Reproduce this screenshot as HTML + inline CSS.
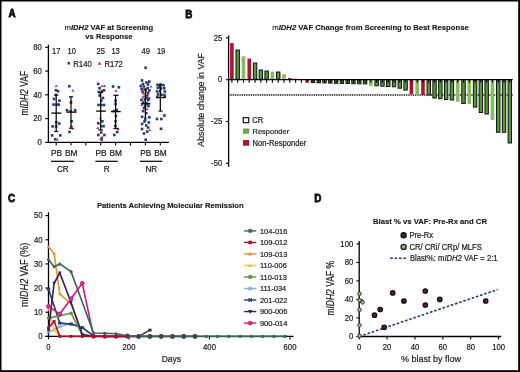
<!DOCTYPE html>
<html><head><meta charset="utf-8"><style>
html,body{margin:0;padding:0;background:#fff;}
svg{display:block;font-family:"Liberation Sans", sans-serif;will-change:transform;filter:blur(0.3px);}
text{fill:#1a1a1a;}
</style></head><body>
<svg width="520" height="372" viewBox="0 0 520 372">
<rect x="0" y="0" width="520" height="372" fill="#fff"/>
<rect x="0" y="0" width="520" height="1.5" fill="#000"/>
<rect x="0" y="0" width="1.5" height="372" fill="#000"/>
<rect x="518.2" y="0" width="1.8" height="372" fill="#000"/>
<rect x="0" y="370.2" width="520" height="1.8" fill="#000"/>
<text transform="translate(8.40,17.40) scale(0.84,1)" font-size="11.8" font-weight="bold" stroke="#000" stroke-width="0.75">A</text>
<text transform="translate(185.20,17.50) scale(0.84,1)" font-size="11.8" font-weight="bold" stroke="#000" stroke-width="0.75">B</text>
<text transform="translate(8.10,201.80) scale(0.84,1)" font-size="11.8" font-weight="bold" stroke="#000" stroke-width="0.75">C</text>
<text transform="translate(314.20,201.50) scale(0.84,1)" font-size="11.8" font-weight="bold" stroke="#000" stroke-width="0.75">D</text>
<line x1="48.40" y1="44.80" x2="48.40" y2="143.00" stroke="#000" stroke-width="1.3" />
<line x1="45.20" y1="142.40" x2="48.40" y2="142.40" stroke="#000" stroke-width="1.1" />
<text transform="translate(41.70,145.15) scale(0.9259,1)" font-size="8.32" text-anchor="end" font-weight="normal" stroke="#1a1a1a" stroke-width="0.2" >0</text>
<line x1="45.20" y1="118.62" x2="48.40" y2="118.62" stroke="#000" stroke-width="1.1" />
<text transform="translate(41.70,121.38) scale(0.9259,1)" font-size="8.32" text-anchor="end" font-weight="normal" stroke="#1a1a1a" stroke-width="0.2" >20</text>
<line x1="45.20" y1="94.85" x2="48.40" y2="94.85" stroke="#000" stroke-width="1.1" />
<text transform="translate(41.70,97.60) scale(0.9259,1)" font-size="8.32" text-anchor="end" font-weight="normal" stroke="#1a1a1a" stroke-width="0.2" >40</text>
<line x1="45.20" y1="71.07" x2="48.40" y2="71.07" stroke="#000" stroke-width="1.1" />
<text transform="translate(41.70,73.82) scale(0.9259,1)" font-size="8.32" text-anchor="end" font-weight="normal" stroke="#1a1a1a" stroke-width="0.2" >60</text>
<line x1="45.20" y1="47.30" x2="48.40" y2="47.30" stroke="#000" stroke-width="1.1" />
<text transform="translate(41.70,50.05) scale(0.9259,1)" font-size="8.32" text-anchor="end" font-weight="normal" stroke="#1a1a1a" stroke-width="0.2" >80</text>
<line x1="47.80" y1="142.40" x2="168.90" y2="142.40" stroke="#000" stroke-width="1.3" />
<line x1="56.20" y1="142.40" x2="56.20" y2="145.60" stroke="#000" stroke-width="1.1" />
<line x1="71.00" y1="142.40" x2="71.00" y2="145.60" stroke="#000" stroke-width="1.1" />
<line x1="85.80" y1="142.40" x2="85.80" y2="145.60" stroke="#000" stroke-width="1.1" />
<line x1="100.70" y1="142.40" x2="100.70" y2="145.60" stroke="#000" stroke-width="1.1" />
<line x1="115.60" y1="142.40" x2="115.60" y2="145.60" stroke="#000" stroke-width="1.1" />
<line x1="130.50" y1="142.40" x2="130.50" y2="145.60" stroke="#000" stroke-width="1.1" />
<line x1="145.40" y1="142.40" x2="145.40" y2="145.60" stroke="#000" stroke-width="1.1" />
<line x1="160.30" y1="142.40" x2="160.30" y2="145.60" stroke="#000" stroke-width="1.1" />
<text transform="translate(56.50,156.40) scale(1.0185,1)" font-size="8.21" text-anchor="middle" font-weight="normal" stroke="#1a1a1a" stroke-width="0.2" >PB</text>
<text transform="translate(71.20,156.40) scale(1.0185,1)" font-size="8.21" text-anchor="middle" font-weight="normal" stroke="#1a1a1a" stroke-width="0.2" >BM</text>
<text transform="translate(101.00,156.40) scale(1.0185,1)" font-size="8.21" text-anchor="middle" font-weight="normal" stroke="#1a1a1a" stroke-width="0.2" >PB</text>
<text transform="translate(115.80,156.40) scale(1.0185,1)" font-size="8.21" text-anchor="middle" font-weight="normal" stroke="#1a1a1a" stroke-width="0.2" >BM</text>
<text transform="translate(145.70,156.40) scale(1.0185,1)" font-size="8.21" text-anchor="middle" font-weight="normal" stroke="#1a1a1a" stroke-width="0.2" >PB</text>
<text transform="translate(160.50,156.40) scale(1.0185,1)" font-size="8.21" text-anchor="middle" font-weight="normal" stroke="#1a1a1a" stroke-width="0.2" >BM</text>
<line x1="51.00" y1="161.30" x2="74.20" y2="161.30" stroke="#000" stroke-width="1.2" />
<text transform="translate(62.80,171.80) scale(0.9722,1)" font-size="8.42" text-anchor="middle" font-weight="normal" stroke="#1a1a1a" stroke-width="0.2" >CR</text>
<line x1="95.40" y1="161.30" x2="117.70" y2="161.30" stroke="#000" stroke-width="1.2" />
<text transform="translate(106.75,171.80) scale(0.9722,1)" font-size="8.42" text-anchor="middle" font-weight="normal" stroke="#1a1a1a" stroke-width="0.2" >R</text>
<line x1="140.00" y1="161.30" x2="162.30" y2="161.30" stroke="#000" stroke-width="1.2" />
<text transform="translate(151.35,171.80) scale(0.9722,1)" font-size="8.42" text-anchor="middle" font-weight="normal" stroke="#1a1a1a" stroke-width="0.2" >NR</text>
<text transform="translate(108.90,30.00) scale(0.9615,1)" font-size="7.96" text-anchor="middle" font-weight="bold" stroke="#1a1a1a" stroke-width="0.15" ><tspan font-weight="normal">m</tspan><tspan font-style="italic">IDH2</tspan> VAF at Screening</text>
<text transform="translate(108.90,39.20) scale(0.9615,1)" font-size="7.96" text-anchor="middle" font-weight="bold" stroke="#1a1a1a" stroke-width="0.15" >vs Response</text>
<text transform="translate(56.20,54.40) scale(0.9259,1)" font-size="8.21" text-anchor="middle" font-weight="normal" stroke="#1a1a1a" stroke-width="0.2" >17</text>
<text transform="translate(71.80,54.40) scale(0.9259,1)" font-size="8.21" text-anchor="middle" font-weight="normal" stroke="#1a1a1a" stroke-width="0.2" >10</text>
<text transform="translate(100.70,54.40) scale(0.9259,1)" font-size="8.21" text-anchor="middle" font-weight="normal" stroke="#1a1a1a" stroke-width="0.2" >25</text>
<text transform="translate(115.60,54.40) scale(0.9259,1)" font-size="8.21" text-anchor="middle" font-weight="normal" stroke="#1a1a1a" stroke-width="0.2" >13</text>
<text transform="translate(145.70,54.40) scale(0.9259,1)" font-size="8.21" text-anchor="middle" font-weight="normal" stroke="#1a1a1a" stroke-width="0.2" >49</text>
<text transform="translate(161.10,54.40) scale(0.9259,1)" font-size="8.21" text-anchor="middle" font-weight="normal" stroke="#1a1a1a" stroke-width="0.2" >19</text>
<rect x="67.5" y="62.0" width="2.5" height="2.5" fill="#243d6e"/>
<text transform="translate(73.30,66.60) scale(0.9259,1)" font-size="8.32" text-anchor="start" font-weight="normal" stroke="#1a1a1a" stroke-width="0.2" >R140</text>
<path d="M97.7 64.8 L99.5 61.6 L101.3 64.8 Z" fill="#c2304a"/>
<text transform="translate(104.50,66.60) scale(0.9259,1)" font-size="8.32" text-anchor="start" font-weight="normal" stroke="#1a1a1a" stroke-width="0.2" >R172</text>
<text transform="translate(27.50,93.25) rotate(-90) scale(0.85,1)" font-size="10.0" text-anchor="middle" stroke="#1a1a1a" stroke-width="0.2">m<tspan font-style="italic">IDH2</tspan> VAF</text>
<path d="M54.70 87.00 L56.20 84.40 L57.70 87.00 Z" fill="#c2304a"/>
<rect x="54.60" y="88.90" width="2.6" height="2.6" fill="#243d6e"/>
<rect x="56.70" y="89.90" width="2.6" height="2.6" fill="#243d6e"/>
<rect x="54.70" y="93.70" width="2.6" height="2.6" fill="#243d6e"/>
<rect x="58.10" y="99.40" width="2.6" height="2.6" fill="#243d6e"/>
<rect x="52.20" y="103.30" width="2.6" height="2.6" fill="#243d6e"/>
<rect x="55.20" y="103.30" width="2.6" height="2.6" fill="#243d6e"/>
<rect x="57.50" y="103.30" width="2.6" height="2.6" fill="#243d6e"/>
<rect x="54.90" y="121.00" width="2.6" height="2.6" fill="#243d6e"/>
<rect x="58.00" y="122.20" width="2.6" height="2.6" fill="#243d6e"/>
<rect x="51.30" y="125.10" width="2.6" height="2.6" fill="#243d6e"/>
<rect x="54.90" y="125.10" width="2.6" height="2.6" fill="#243d6e"/>
<rect x="50.80" y="134.10" width="2.6" height="2.6" fill="#243d6e"/>
<rect x="59.00" y="134.10" width="2.6" height="2.6" fill="#243d6e"/>
<rect x="53.90" y="137.90" width="2.6" height="2.6" fill="#243d6e"/>
<path d="M55.70 140.60 L57.20 138.00 L58.70 140.60 Z" fill="#c2304a"/>
<rect x="52.70" y="97.70" width="2.6" height="2.6" fill="#243d6e"/>
<rect x="68.00" y="84.90" width="2.6" height="2.6" fill="#243d6e"/>
<path d="M71.40 91.60 L72.90 89.00 L74.40 91.60 Z" fill="#c2304a"/>
<rect x="69.70" y="101.10" width="2.6" height="2.6" fill="#243d6e"/>
<rect x="65.70" y="108.90" width="2.6" height="2.6" fill="#243d6e"/>
<rect x="73.80" y="108.90" width="2.6" height="2.6" fill="#243d6e"/>
<rect x="69.20" y="110.20" width="2.6" height="2.6" fill="#243d6e"/>
<rect x="70.30" y="120.00" width="2.6" height="2.6" fill="#243d6e"/>
<path d="M70.10 127.00 L71.60 124.40 L73.10 127.00 Z" fill="#c2304a"/>
<path d="M71.60 129.50 L73.10 126.90 L74.60 129.50 Z" fill="#c2304a"/>
<rect x="68.20" y="130.70" width="2.6" height="2.6" fill="#243d6e"/>
<rect x="96.84" y="82.60" width="2.6" height="2.6" fill="#243d6e"/>
<path d="M100.48 87.10 L101.98 84.50 L103.48 87.10 Z" fill="#c2304a"/>
<path d="M102.88 87.10 L104.38 84.50 L105.88 87.10 Z" fill="#c2304a"/>
<rect x="98.28" y="86.90" width="2.6" height="2.6" fill="#243d6e"/>
<rect x="102.76" y="89.00" width="2.6" height="2.6" fill="#243d6e"/>
<rect x="100.68" y="89.90" width="2.6" height="2.6" fill="#243d6e"/>
<rect x="97.64" y="90.70" width="2.6" height="2.6" fill="#243d6e"/>
<rect x="98.28" y="94.20" width="2.6" height="2.6" fill="#243d6e"/>
<rect x="101.64" y="96.70" width="2.6" height="2.6" fill="#243d6e"/>
<rect x="99.96" y="99.40" width="2.6" height="2.6" fill="#243d6e"/>
<rect x="97.24" y="103.70" width="2.6" height="2.6" fill="#243d6e"/>
<rect x="100.04" y="103.70" width="2.6" height="2.6" fill="#243d6e"/>
<rect x="102.76" y="103.70" width="2.6" height="2.6" fill="#243d6e"/>
<path d="M98.80 119.30 L100.30 116.70 L101.80 119.30 Z" fill="#c2304a"/>
<rect x="101.08" y="120.00" width="2.6" height="2.6" fill="#243d6e"/>
<rect x="97.00" y="122.00" width="2.6" height="2.6" fill="#243d6e"/>
<rect x="99.88" y="124.90" width="2.6" height="2.6" fill="#243d6e"/>
<rect x="102.28" y="124.90" width="2.6" height="2.6" fill="#243d6e"/>
<path d="M96.24 129.10 L97.74 126.50 L99.24 129.10 Z" fill="#c2304a"/>
<rect x="99.88" y="131.20" width="2.6" height="2.6" fill="#243d6e"/>
<rect x="97.00" y="133.70" width="2.6" height="2.6" fill="#243d6e"/>
<rect x="103.08" y="133.70" width="2.6" height="2.6" fill="#243d6e"/>
<path d="M99.20 139.70 L100.70 137.10 L102.20 139.70 Z" fill="#c2304a"/>
<rect x="100.44" y="138.20" width="2.6" height="2.6" fill="#243d6e"/>
<path d="M100.64 138.10 L102.14 135.50 L103.64 138.10 Z" fill="#c2304a"/>
<rect x="111.75" y="85.20" width="2.6" height="2.6" fill="#243d6e"/>
<rect x="117.61" y="86.00" width="2.6" height="2.6" fill="#243d6e"/>
<path d="M114.44 91.90 L115.94 89.30 L117.44 91.90 Z" fill="#c2304a"/>
<rect x="114.30" y="99.40" width="2.6" height="2.6" fill="#243d6e"/>
<rect x="114.30" y="102.80" width="2.6" height="2.6" fill="#243d6e"/>
<rect x="115.49" y="108.70" width="2.6" height="2.6" fill="#243d6e"/>
<rect x="112.52" y="109.70" width="2.6" height="2.6" fill="#243d6e"/>
<rect x="114.64" y="114.70" width="2.6" height="2.6" fill="#243d6e"/>
<rect x="114.30" y="120.00" width="2.6" height="2.6" fill="#243d6e"/>
<rect x="113.96" y="124.60" width="2.6" height="2.6" fill="#243d6e"/>
<path d="M116.65 130.00 L118.15 127.40 L119.65 130.00 Z" fill="#c2304a"/>
<rect x="116.00" y="130.70" width="2.6" height="2.6" fill="#243d6e"/>
<rect x="112.94" y="133.70" width="2.6" height="2.6" fill="#243d6e"/>
<rect x="144.30" y="66.40" width="2.6" height="2.6" fill="#243d6e"/>
<rect x="140.70" y="79.10" width="2.6" height="2.6" fill="#243d6e"/>
<rect x="145.20" y="81.20" width="2.6" height="2.6" fill="#243d6e"/>
<rect x="148.00" y="80.30" width="2.6" height="2.6" fill="#243d6e"/>
<rect x="139.50" y="84.70" width="2.6" height="2.6" fill="#243d6e"/>
<rect x="142.70" y="85.20" width="2.6" height="2.6" fill="#243d6e"/>
<rect x="146.40" y="86.80" width="2.6" height="2.6" fill="#243d6e"/>
<path d="M149.40 87.60 L150.90 85.00 L152.40 87.60 Z" fill="#c2304a"/>
<rect x="140.30" y="87.60" width="2.6" height="2.6" fill="#243d6e"/>
<rect x="144.40" y="88.80" width="2.6" height="2.6" fill="#243d6e"/>
<path d="M141.80 94.40 L143.30 91.80 L144.80 94.40 Z" fill="#c2304a"/>
<rect x="146.80" y="91.60" width="2.6" height="2.6" fill="#243d6e"/>
<path d="M142.50 97.30 L144.00 94.70 L145.50 97.30 Z" fill="#c2304a"/>
<rect x="146.00" y="94.10" width="2.6" height="2.6" fill="#243d6e"/>
<rect x="143.60" y="98.10" width="2.6" height="2.6" fill="#243d6e"/>
<rect x="146.80" y="98.90" width="2.6" height="2.6" fill="#243d6e"/>
<rect x="142.00" y="101.30" width="2.6" height="2.6" fill="#243d6e"/>
<rect x="143.90" y="104.70" width="2.6" height="2.6" fill="#243d6e"/>
<path d="M145.70 110.20 L147.20 107.60 L148.70 110.20 Z" fill="#c2304a"/>
<rect x="141.80" y="109.80" width="2.6" height="2.6" fill="#243d6e"/>
<rect x="144.90" y="111.90" width="2.6" height="2.6" fill="#243d6e"/>
<rect x="140.80" y="115.50" width="2.6" height="2.6" fill="#243d6e"/>
<rect x="148.00" y="116.00" width="2.6" height="2.6" fill="#243d6e"/>
<rect x="143.90" y="118.50" width="2.6" height="2.6" fill="#243d6e"/>
<rect x="147.50" y="121.10" width="2.6" height="2.6" fill="#243d6e"/>
<rect x="140.80" y="122.60" width="2.6" height="2.6" fill="#243d6e"/>
<rect x="144.90" y="124.10" width="2.6" height="2.6" fill="#243d6e"/>
<rect x="140.80" y="127.70" width="2.6" height="2.6" fill="#243d6e"/>
<rect x="145.90" y="130.30" width="2.6" height="2.6" fill="#243d6e"/>
<path d="M148.30 131.10 L149.80 128.50 L151.30 131.10 Z" fill="#c2304a"/>
<rect x="144.40" y="138.40" width="2.6" height="2.6" fill="#243d6e"/>
<rect x="141.70" y="82.70" width="2.6" height="2.6" fill="#243d6e"/>
<rect x="146.70" y="83.20" width="2.6" height="2.6" fill="#243d6e"/>
<rect x="141.20" y="90.20" width="2.6" height="2.6" fill="#243d6e"/>
<path d="M144.50 93.10 L146.00 90.50 L147.50 93.10 Z" fill="#c2304a"/>
<rect x="148.20" y="89.20" width="2.6" height="2.6" fill="#243d6e"/>
<path d="M141.00 98.60 L142.50 96.00 L144.00 98.60 Z" fill="#c2304a"/>
<rect x="145.20" y="96.70" width="2.6" height="2.6" fill="#243d6e"/>
<path d="M144.00 95.10 L145.50 92.50 L147.00 95.10 Z" fill="#c2304a"/>
<rect x="140.20" y="98.70" width="2.6" height="2.6" fill="#243d6e"/>
<rect x="147.70" y="97.20" width="2.6" height="2.6" fill="#243d6e"/>
<path d="M140.30 106.10 L141.80 103.50 L143.30 106.10 Z" fill="#c2304a"/>
<rect x="147.20" y="104.70" width="2.6" height="2.6" fill="#243d6e"/>
<rect x="142.70" y="106.70" width="2.6" height="2.6" fill="#243d6e"/>
<rect x="143.20" y="120.20" width="2.6" height="2.6" fill="#243d6e"/>
<rect x="146.70" y="126.20" width="2.6" height="2.6" fill="#243d6e"/>
<rect x="142.70" y="132.20" width="2.6" height="2.6" fill="#243d6e"/>
<path d="M142.30 90.10 L143.80 87.50 L145.30 90.10 Z" fill="#c2304a"/>
<rect x="145.70" y="102.20" width="2.6" height="2.6" fill="#243d6e"/>
<rect x="156.20" y="83.50" width="2.6" height="2.6" fill="#243d6e"/>
<rect x="159.20" y="83.20" width="2.6" height="2.6" fill="#243d6e"/>
<rect x="162.20" y="83.90" width="2.6" height="2.6" fill="#243d6e"/>
<rect x="156.60" y="86.50" width="2.6" height="2.6" fill="#243d6e"/>
<rect x="159.70" y="87.20" width="2.6" height="2.6" fill="#243d6e"/>
<rect x="162.90" y="86.90" width="2.6" height="2.6" fill="#243d6e"/>
<rect x="155.70" y="90.20" width="2.6" height="2.6" fill="#243d6e"/>
<rect x="158.70" y="89.90" width="2.6" height="2.6" fill="#243d6e"/>
<rect x="163.50" y="90.20" width="2.6" height="2.6" fill="#243d6e"/>
<rect x="156.70" y="93.20" width="2.6" height="2.6" fill="#243d6e"/>
<rect x="160.20" y="93.40" width="2.6" height="2.6" fill="#243d6e"/>
<rect x="163.20" y="93.70" width="2.6" height="2.6" fill="#243d6e"/>
<rect x="155.90" y="95.70" width="2.6" height="2.6" fill="#243d6e"/>
<rect x="163.50" y="95.50" width="2.6" height="2.6" fill="#243d6e"/>
<rect x="163.10" y="114.20" width="2.6" height="2.6" fill="#243d6e"/>
<rect x="155.70" y="117.70" width="2.6" height="2.6" fill="#243d6e"/>
<rect x="160.00" y="117.70" width="2.6" height="2.6" fill="#243d6e"/>
<rect x="159.70" y="127.50" width="2.6" height="2.6" fill="#243d6e"/>
<rect x="158.70" y="85.20" width="2.6" height="2.6" fill="#243d6e"/>
<line x1="56.20" y1="95.10" x2="56.20" y2="131.50" stroke="#000" stroke-width="1.2" />
<line x1="54.20" y1="95.10" x2="58.30" y2="95.10" stroke="#000" stroke-width="1.2" />
<line x1="54.20" y1="131.50" x2="58.30" y2="131.50" stroke="#000" stroke-width="1.2" />
<line x1="51.30" y1="113.10" x2="61.30" y2="113.10" stroke="#000" stroke-width="1.3" />
<line x1="71.00" y1="96.80" x2="71.00" y2="128.20" stroke="#000" stroke-width="1.2" />
<line x1="69.00" y1="96.80" x2="73.00" y2="96.80" stroke="#000" stroke-width="1.2" />
<line x1="69.00" y1="128.20" x2="73.00" y2="128.20" stroke="#000" stroke-width="1.2" />
<line x1="66.40" y1="112.10" x2="76.70" y2="112.10" stroke="#000" stroke-width="1.3" />
<line x1="100.70" y1="92.50" x2="100.70" y2="130.00" stroke="#000" stroke-width="1.2" />
<line x1="98.30" y1="92.50" x2="103.00" y2="92.50" stroke="#000" stroke-width="1.2" />
<line x1="98.30" y1="130.00" x2="103.00" y2="130.00" stroke="#000" stroke-width="1.2" />
<line x1="96.20" y1="111.10" x2="105.90" y2="111.10" stroke="#000" stroke-width="1.3" />
<line x1="115.60" y1="95.30" x2="115.60" y2="128.50" stroke="#000" stroke-width="1.2" />
<line x1="113.40" y1="95.30" x2="118.60" y2="95.30" stroke="#000" stroke-width="1.2" />
<line x1="113.40" y1="128.50" x2="118.60" y2="128.50" stroke="#000" stroke-width="1.2" />
<line x1="111.00" y1="111.60" x2="120.70" y2="111.60" stroke="#000" stroke-width="1.3" />
<line x1="145.40" y1="89.00" x2="145.40" y2="118.00" stroke="#000" stroke-width="1.2" />
<line x1="144.20" y1="89.00" x2="146.60" y2="89.00" stroke="#000" stroke-width="1.2" />
<line x1="144.20" y1="118.00" x2="146.60" y2="118.00" stroke="#000" stroke-width="1.2" />
<line x1="140.80" y1="103.80" x2="150.50" y2="103.80" stroke="#000" stroke-width="1.3" />
<line x1="160.30" y1="85.00" x2="160.30" y2="111.10" stroke="#000" stroke-width="1.2" />
<line x1="158.60" y1="85.00" x2="162.50" y2="85.00" stroke="#000" stroke-width="1.2" />
<line x1="158.60" y1="111.10" x2="162.50" y2="111.10" stroke="#000" stroke-width="1.2" />
<line x1="156.30" y1="97.50" x2="165.60" y2="97.50" stroke="#000" stroke-width="1.3" />
<text transform="translate(370.50,29.80) scale(0.9615,1)" font-size="7.99" text-anchor="middle" font-weight="bold" stroke="#1a1a1a" stroke-width="0.15" ><tspan font-weight="normal">m</tspan><tspan font-style="italic">IDH2</tspan> VAF Change from Screening to Best Response</text>
<line x1="229.50" y1="95.00" x2="512.70" y2="95.00" stroke="#000" stroke-width="1.3" stroke-dasharray="1,0.8"/>
<rect x="230.10" y="43.10" width="3.60" height="36.60" fill="#b01232"/>
<rect x="235.99" y="50.00" width="3.40" height="29.20" fill="#569a36" stroke="#111" stroke-width="1"/>
<rect x="241.68" y="56.30" width="3.60" height="23.40" fill="#88bc60"/>
<rect x="247.47" y="58.50" width="3.60" height="21.20" fill="#b01232"/>
<rect x="253.36" y="63.00" width="3.40" height="16.20" fill="#569a36" stroke="#111" stroke-width="1"/>
<rect x="259.15" y="70.00" width="3.40" height="9.20" fill="#569a36" stroke="#111" stroke-width="1"/>
<rect x="264.94" y="71.00" width="3.40" height="8.20" fill="#569a36" stroke="#111" stroke-width="1"/>
<rect x="270.63" y="71.60" width="3.60" height="8.10" fill="#88bc60"/>
<rect x="276.52" y="72.00" width="3.40" height="7.20" fill="#569a36" stroke="#111" stroke-width="1"/>
<rect x="282.21" y="74.30" width="3.60" height="5.40" fill="#88bc60"/>
<rect x="288.00" y="78.00" width="3.60" height="1.70" fill="#b01232"/>
<rect x="293.79" y="78.70" width="3.60" height="1.00" fill="#b01232"/>
<rect x="305.37" y="79.70" width="3.60" height="2.80" fill="#b01232"/>
<rect x="311.26" y="79.70" width="3.40" height="2.80" fill="#569a36" stroke="#111" stroke-width="1"/>
<rect x="317.05" y="79.70" width="3.40" height="3.10" fill="#569a36" stroke="#111" stroke-width="1"/>
<rect x="322.84" y="79.70" width="3.40" height="3.20" fill="#569a36" stroke="#111" stroke-width="1"/>
<rect x="328.63" y="79.70" width="3.40" height="3.40" fill="#569a36" stroke="#111" stroke-width="1"/>
<rect x="334.42" y="79.70" width="3.40" height="3.60" fill="#569a36" stroke="#111" stroke-width="1"/>
<rect x="340.21" y="79.70" width="3.40" height="3.80" fill="#569a36" stroke="#111" stroke-width="1"/>
<rect x="346.00" y="79.70" width="3.40" height="3.80" fill="#569a36" stroke="#111" stroke-width="1"/>
<rect x="351.79" y="79.70" width="3.40" height="4.00" fill="#569a36" stroke="#111" stroke-width="1"/>
<rect x="357.58" y="79.70" width="3.40" height="4.10" fill="#569a36" stroke="#111" stroke-width="1"/>
<rect x="363.37" y="79.70" width="3.40" height="4.20" fill="#569a36" stroke="#111" stroke-width="1"/>
<rect x="369.06" y="79.70" width="3.60" height="6.10" fill="#88bc60"/>
<rect x="374.95" y="79.70" width="3.40" height="6.10" fill="#569a36" stroke="#111" stroke-width="1"/>
<rect x="380.74" y="79.70" width="3.40" height="6.50" fill="#569a36" stroke="#111" stroke-width="1"/>
<rect x="386.53" y="79.70" width="3.40" height="6.80" fill="#569a36" stroke="#111" stroke-width="1"/>
<rect x="392.32" y="79.70" width="3.40" height="7.10" fill="#569a36" stroke="#111" stroke-width="1"/>
<rect x="398.11" y="79.70" width="3.40" height="8.50" fill="#569a36" stroke="#111" stroke-width="1"/>
<rect x="403.90" y="79.70" width="3.40" height="10.40" fill="#569a36" stroke="#111" stroke-width="1"/>
<rect x="409.59" y="79.70" width="3.60" height="14.50" fill="#b01232"/>
<rect x="415.38" y="79.70" width="3.60" height="15.30" fill="#88bc60"/>
<rect x="421.17" y="79.70" width="3.60" height="15.30" fill="#b01232"/>
<rect x="427.06" y="79.70" width="3.40" height="15.20" fill="#569a36" stroke="#111" stroke-width="1"/>
<rect x="432.85" y="79.70" width="3.40" height="18.30" fill="#569a36" stroke="#111" stroke-width="1"/>
<rect x="438.64" y="79.70" width="3.40" height="19.00" fill="#569a36" stroke="#111" stroke-width="1"/>
<rect x="444.43" y="79.70" width="3.40" height="19.80" fill="#569a36" stroke="#111" stroke-width="1"/>
<rect x="450.22" y="79.70" width="3.40" height="20.30" fill="#569a36" stroke="#111" stroke-width="1"/>
<rect x="455.91" y="79.70" width="3.60" height="22.10" fill="#88bc60"/>
<rect x="461.80" y="79.70" width="3.40" height="23.80" fill="#569a36" stroke="#111" stroke-width="1"/>
<rect x="467.49" y="79.70" width="3.60" height="24.30" fill="#88bc60"/>
<rect x="473.38" y="79.70" width="3.40" height="27.40" fill="#569a36" stroke="#111" stroke-width="1"/>
<rect x="479.17" y="79.70" width="3.40" height="32.80" fill="#569a36" stroke="#111" stroke-width="1"/>
<rect x="484.96" y="79.70" width="3.40" height="34.30" fill="#569a36" stroke="#111" stroke-width="1"/>
<rect x="490.65" y="79.70" width="3.60" height="40.30" fill="#88bc60"/>
<rect x="496.54" y="79.70" width="3.40" height="52.60" fill="#569a36" stroke="#111" stroke-width="1"/>
<rect x="502.33" y="79.70" width="3.40" height="52.60" fill="#569a36" stroke="#111" stroke-width="1"/>
<rect x="508.12" y="79.70" width="3.40" height="63.30" fill="#569a36" stroke="#111" stroke-width="1"/>
<line x1="228.60" y1="35.40" x2="228.60" y2="166.80" stroke="#000" stroke-width="1.3" />
<line x1="225.90" y1="37.90" x2="228.60" y2="37.90" stroke="#000" stroke-width="1.1" />
<text transform="translate(222.20,40.65) scale(0.9259,1)" font-size="8.32" text-anchor="end" font-weight="normal" stroke="#1a1a1a" stroke-width="0.2" >25</text>
<line x1="225.90" y1="79.70" x2="228.60" y2="79.70" stroke="#000" stroke-width="1.1" />
<text transform="translate(222.20,82.45) scale(0.9259,1)" font-size="8.32" text-anchor="end" font-weight="normal" stroke="#1a1a1a" stroke-width="0.2" >0</text>
<line x1="225.90" y1="121.50" x2="228.60" y2="121.50" stroke="#000" stroke-width="1.1" />
<text transform="translate(222.20,124.25) scale(0.9259,1)" font-size="8.32" text-anchor="end" font-weight="normal" stroke="#1a1a1a" stroke-width="0.2" >-25</text>
<line x1="225.90" y1="163.30" x2="228.60" y2="163.30" stroke="#000" stroke-width="1.1" />
<text transform="translate(222.20,166.05) scale(0.9259,1)" font-size="8.32" text-anchor="end" font-weight="normal" stroke="#1a1a1a" stroke-width="0.2" >-50</text>
<line x1="228.60" y1="79.70" x2="512.70" y2="79.70" stroke="#000" stroke-width="1.3" />
<line x1="231.90" y1="79.70" x2="231.90" y2="82.70" stroke="#000" stroke-width="1.1" />
<line x1="237.69" y1="79.70" x2="237.69" y2="82.70" stroke="#000" stroke-width="1.1" />
<line x1="243.48" y1="79.70" x2="243.48" y2="82.70" stroke="#000" stroke-width="1.1" />
<line x1="249.27" y1="79.70" x2="249.27" y2="82.70" stroke="#000" stroke-width="1.1" />
<line x1="255.06" y1="79.70" x2="255.06" y2="82.70" stroke="#000" stroke-width="1.1" />
<line x1="260.85" y1="79.70" x2="260.85" y2="82.70" stroke="#000" stroke-width="1.1" />
<line x1="266.64" y1="79.70" x2="266.64" y2="82.70" stroke="#000" stroke-width="1.1" />
<line x1="272.43" y1="79.70" x2="272.43" y2="82.70" stroke="#000" stroke-width="1.1" />
<line x1="278.22" y1="79.70" x2="278.22" y2="82.70" stroke="#000" stroke-width="1.1" />
<line x1="284.01" y1="79.70" x2="284.01" y2="82.70" stroke="#000" stroke-width="1.1" />
<line x1="289.80" y1="79.70" x2="289.80" y2="82.70" stroke="#000" stroke-width="1.1" />
<line x1="295.59" y1="79.70" x2="295.59" y2="82.70" stroke="#000" stroke-width="1.1" />
<line x1="301.38" y1="79.70" x2="301.38" y2="82.70" stroke="#000" stroke-width="1.1" />
<line x1="307.17" y1="79.70" x2="307.17" y2="82.70" stroke="#000" stroke-width="1.1" />
<line x1="312.96" y1="79.70" x2="312.96" y2="82.70" stroke="#000" stroke-width="1.1" />
<line x1="318.75" y1="79.70" x2="318.75" y2="82.70" stroke="#000" stroke-width="1.1" />
<line x1="324.54" y1="79.70" x2="324.54" y2="82.70" stroke="#000" stroke-width="1.1" />
<line x1="330.33" y1="79.70" x2="330.33" y2="82.70" stroke="#000" stroke-width="1.1" />
<line x1="336.12" y1="79.70" x2="336.12" y2="82.70" stroke="#000" stroke-width="1.1" />
<line x1="341.91" y1="79.70" x2="341.91" y2="82.70" stroke="#000" stroke-width="1.1" />
<line x1="347.70" y1="79.70" x2="347.70" y2="82.70" stroke="#000" stroke-width="1.1" />
<line x1="353.49" y1="79.70" x2="353.49" y2="82.70" stroke="#000" stroke-width="1.1" />
<line x1="359.28" y1="79.70" x2="359.28" y2="82.70" stroke="#000" stroke-width="1.1" />
<line x1="365.07" y1="79.70" x2="365.07" y2="82.70" stroke="#000" stroke-width="1.1" />
<line x1="370.86" y1="79.70" x2="370.86" y2="82.70" stroke="#000" stroke-width="1.1" />
<line x1="376.65" y1="79.70" x2="376.65" y2="82.70" stroke="#000" stroke-width="1.1" />
<line x1="382.44" y1="79.70" x2="382.44" y2="82.70" stroke="#000" stroke-width="1.1" />
<line x1="388.23" y1="79.70" x2="388.23" y2="82.70" stroke="#000" stroke-width="1.1" />
<line x1="394.02" y1="79.70" x2="394.02" y2="82.70" stroke="#000" stroke-width="1.1" />
<line x1="399.81" y1="79.70" x2="399.81" y2="82.70" stroke="#000" stroke-width="1.1" />
<line x1="405.60" y1="79.70" x2="405.60" y2="82.70" stroke="#000" stroke-width="1.1" />
<line x1="411.39" y1="79.70" x2="411.39" y2="82.70" stroke="#000" stroke-width="1.1" />
<line x1="417.18" y1="79.70" x2="417.18" y2="82.70" stroke="#000" stroke-width="1.1" />
<line x1="422.97" y1="79.70" x2="422.97" y2="82.70" stroke="#000" stroke-width="1.1" />
<line x1="428.76" y1="79.70" x2="428.76" y2="82.70" stroke="#000" stroke-width="1.1" />
<line x1="434.55" y1="79.70" x2="434.55" y2="82.70" stroke="#000" stroke-width="1.1" />
<line x1="440.34" y1="79.70" x2="440.34" y2="82.70" stroke="#000" stroke-width="1.1" />
<line x1="446.13" y1="79.70" x2="446.13" y2="82.70" stroke="#000" stroke-width="1.1" />
<line x1="451.92" y1="79.70" x2="451.92" y2="82.70" stroke="#000" stroke-width="1.1" />
<line x1="457.71" y1="79.70" x2="457.71" y2="82.70" stroke="#000" stroke-width="1.1" />
<line x1="463.50" y1="79.70" x2="463.50" y2="82.70" stroke="#000" stroke-width="1.1" />
<line x1="469.29" y1="79.70" x2="469.29" y2="82.70" stroke="#000" stroke-width="1.1" />
<line x1="475.08" y1="79.70" x2="475.08" y2="82.70" stroke="#000" stroke-width="1.1" />
<line x1="480.87" y1="79.70" x2="480.87" y2="82.70" stroke="#000" stroke-width="1.1" />
<line x1="486.66" y1="79.70" x2="486.66" y2="82.70" stroke="#000" stroke-width="1.1" />
<line x1="492.45" y1="79.70" x2="492.45" y2="82.70" stroke="#000" stroke-width="1.1" />
<line x1="498.24" y1="79.70" x2="498.24" y2="82.70" stroke="#000" stroke-width="1.1" />
<line x1="504.03" y1="79.70" x2="504.03" y2="82.70" stroke="#000" stroke-width="1.1" />
<line x1="509.82" y1="79.70" x2="509.82" y2="82.70" stroke="#000" stroke-width="1.1" />
<rect x="243.2" y="117.7" width="5.5" height="5.0" fill="#fff" stroke="#111" stroke-width="1.2"/>
<rect x="243.0" y="128.5" width="6.2" height="5.3" fill="#6eaa4c"/>
<rect x="243.0" y="140.0" width="6.2" height="5.7" fill="#b01232"/>
<text transform="translate(252.30,122.90) scale(0.9259,1)" font-size="8.32" text-anchor="start" font-weight="normal" stroke="#1a1a1a" stroke-width="0.2" >CR</text>
<text transform="translate(252.50,133.80) scale(0.9259,1)" font-size="8.10" text-anchor="start" font-weight="normal" stroke="#1a1a1a" stroke-width="0.2" >Responder</text>
<text transform="translate(252.50,145.60) scale(0.9259,1)" font-size="8.23" text-anchor="start" font-weight="normal" stroke="#1a1a1a" stroke-width="0.2" >Non-Responder</text>
<text transform="translate(204.40,99.90) rotate(-90) scale(0.955,1)" font-size="9.2" text-anchor="middle" stroke="#1a1a1a" stroke-width="0.2">Absolute change in VAF</text>
<text transform="translate(170.30,208.00) scale(0.9615,1)" font-size="7.97" text-anchor="middle" font-weight="bold" stroke="#1a1a1a" stroke-width="0.15" >Patients Achieving Molecular Remission</text>
<text transform="translate(28.30,274.90) rotate(-90) scale(0.87,1)" font-size="10.4" text-anchor="middle" stroke="#1a1a1a" stroke-width="0.2">m<tspan font-style="italic">IDH2</tspan> VAF (%)</text>
<line x1="48.50" y1="212.30" x2="48.50" y2="337.00" stroke="#000" stroke-width="1.3" />
<line x1="45.50" y1="336.40" x2="48.50" y2="336.40" stroke="#000" stroke-width="1.1" />
<text transform="translate(42.60,339.15) scale(0.9259,1)" font-size="8.32" text-anchor="end" font-weight="normal" stroke="#1a1a1a" stroke-width="0.2" >0</text>
<line x1="45.50" y1="312.24" x2="48.50" y2="312.24" stroke="#000" stroke-width="1.1" />
<text transform="translate(42.60,314.99) scale(0.9259,1)" font-size="8.32" text-anchor="end" font-weight="normal" stroke="#1a1a1a" stroke-width="0.2" >10</text>
<line x1="45.50" y1="288.08" x2="48.50" y2="288.08" stroke="#000" stroke-width="1.1" />
<text transform="translate(42.60,290.83) scale(0.9259,1)" font-size="8.32" text-anchor="end" font-weight="normal" stroke="#1a1a1a" stroke-width="0.2" >20</text>
<line x1="45.50" y1="263.92" x2="48.50" y2="263.92" stroke="#000" stroke-width="1.1" />
<text transform="translate(42.60,266.67) scale(0.9259,1)" font-size="8.32" text-anchor="end" font-weight="normal" stroke="#1a1a1a" stroke-width="0.2" >30</text>
<line x1="45.50" y1="239.76" x2="48.50" y2="239.76" stroke="#000" stroke-width="1.1" />
<text transform="translate(42.60,242.51) scale(0.9259,1)" font-size="8.32" text-anchor="end" font-weight="normal" stroke="#1a1a1a" stroke-width="0.2" >40</text>
<line x1="45.50" y1="215.60" x2="48.50" y2="215.60" stroke="#000" stroke-width="1.1" />
<text transform="translate(42.60,218.35) scale(0.9259,1)" font-size="8.32" text-anchor="end" font-weight="normal" stroke="#1a1a1a" stroke-width="0.2" >50</text>
<line x1="45.50" y1="336.40" x2="293.50" y2="336.40" stroke="#000" stroke-width="1.3" />
<line x1="48.50" y1="336.40" x2="48.50" y2="339.40" stroke="#000" stroke-width="1.1" />
<text transform="translate(48.50,349.60) scale(0.9259,1)" font-size="8.32" text-anchor="middle" font-weight="normal" stroke="#1a1a1a" stroke-width="0.2" >0</text>
<line x1="129.00" y1="336.40" x2="129.00" y2="339.40" stroke="#000" stroke-width="1.1" />
<text transform="translate(129.00,349.60) scale(0.9259,1)" font-size="8.32" text-anchor="middle" font-weight="normal" stroke="#1a1a1a" stroke-width="0.2" >200</text>
<line x1="209.50" y1="336.40" x2="209.50" y2="339.40" stroke="#000" stroke-width="1.1" />
<text transform="translate(209.50,349.60) scale(0.9259,1)" font-size="8.32" text-anchor="middle" font-weight="normal" stroke="#1a1a1a" stroke-width="0.2" >400</text>
<line x1="290.00" y1="336.40" x2="290.00" y2="339.40" stroke="#000" stroke-width="1.1" />
<text transform="translate(290.00,349.60) scale(0.9259,1)" font-size="8.32" text-anchor="middle" font-weight="normal" stroke="#1a1a1a" stroke-width="0.2" >600</text>
<polyline points="48.50,332.05 59.77,326.74 71.04,323.60 82.31,327.70 93.58,336.40" fill="none" stroke="#80b0e0" stroke-width="1.6" stroke-linejoin="round"/>
<path d="M46.50 332.05 H50.50 M47.20 330.55 L49.80 333.55 M49.80 330.55 L47.20 333.55" stroke="#80b0e0" stroke-width="1.1" fill="none"/>
<path d="M57.77 326.74 H61.77 M58.47 325.24 L61.07 328.24 M61.07 325.24 L58.47 328.24" stroke="#80b0e0" stroke-width="1.1" fill="none"/>
<path d="M69.04 323.60 H73.04 M69.74 322.10 L72.34 325.10 M72.34 322.10 L69.74 325.10" stroke="#80b0e0" stroke-width="1.1" fill="none"/>
<path d="M80.31 327.70 H84.31 M81.01 326.20 L83.61 329.20 M83.61 326.20 L81.01 329.20" stroke="#80b0e0" stroke-width="1.1" fill="none"/>
<path d="M91.58 336.40 H95.58 M92.28 334.90 L94.88 337.90 M94.88 334.90 L92.28 337.90" stroke="#80b0e0" stroke-width="1.1" fill="none"/>
<polyline points="48.50,289.05 59.77,323.11 71.04,324.08 82.31,327.70 93.58,335.68 104.85,336.40 116.12,336.40 127.39,336.40 138.66,336.40 149.93,330.12" fill="none" stroke="#2b3b6e" stroke-width="1.6" stroke-linejoin="round"/>
<path d="M46.50 289.05 H50.50 M47.20 287.55 L49.80 290.55 M49.80 287.55 L47.20 290.55" stroke="#2b3b6e" stroke-width="1.1" fill="none"/>
<path d="M57.77 323.11 H61.77 M58.47 321.61 L61.07 324.61 M61.07 321.61 L58.47 324.61" stroke="#2b3b6e" stroke-width="1.1" fill="none"/>
<path d="M69.04 324.08 H73.04 M69.74 322.58 L72.34 325.58 M72.34 322.58 L69.74 325.58" stroke="#2b3b6e" stroke-width="1.1" fill="none"/>
<path d="M80.31 327.70 H84.31 M81.01 326.20 L83.61 329.20 M83.61 326.20 L81.01 329.20" stroke="#2b3b6e" stroke-width="1.1" fill="none"/>
<path d="M91.58 335.68 H95.58 M92.28 334.18 L94.88 337.18 M94.88 334.18 L92.28 337.18" stroke="#2b3b6e" stroke-width="1.1" fill="none"/>
<path d="M102.85 336.40 H106.85 M103.55 334.90 L106.15 337.90 M106.15 334.90 L103.55 337.90" stroke="#2b3b6e" stroke-width="1.1" fill="none"/>
<path d="M114.12 336.40 H118.12 M114.82 334.90 L117.42 337.90 M117.42 334.90 L114.82 337.90" stroke="#2b3b6e" stroke-width="1.1" fill="none"/>
<path d="M125.39 336.40 H129.39 M126.09 334.90 L128.69 337.90 M128.69 334.90 L126.09 337.90" stroke="#2b3b6e" stroke-width="1.1" fill="none"/>
<path d="M136.66 336.40 H140.66 M137.36 334.90 L139.96 337.90 M139.96 334.90 L137.36 337.90" stroke="#2b3b6e" stroke-width="1.1" fill="none"/>
<path d="M147.93 330.12 H151.93 M148.63 328.62 L151.23 331.62 M151.23 328.62 L148.63 331.62" stroke="#2b3b6e" stroke-width="1.1" fill="none"/>
<polyline points="48.50,307.41 54.13,330.36 59.77,335.92 71.04,335.92" fill="none" stroke="#e6cc48" stroke-width="1.6" stroke-linejoin="round"/>
<path d="M46.70 308.71 L48.50 305.61 L50.30 308.71 Z" fill="#e6cc48"/>
<path d="M52.34 331.66 L54.13 328.56 L55.93 331.66 Z" fill="#e6cc48"/>
<path d="M57.97 337.22 L59.77 334.12 L61.57 337.22 Z" fill="#e6cc48"/>
<path d="M69.24 337.22 L71.04 334.12 L72.84 337.22 Z" fill="#e6cc48"/>
<polyline points="48.50,247.01 54.13,253.53 59.77,293.88 71.04,304.03 82.31,334.95 93.58,336.40" fill="none" stroke="#dc962e" stroke-width="1.6" stroke-linejoin="round"/>
<path d="M46.70 248.31 L48.50 245.21 L50.30 248.31 Z" fill="#dc962e"/>
<path d="M52.34 254.83 L54.13 251.73 L55.93 254.83 Z" fill="#dc962e"/>
<path d="M57.97 295.18 L59.77 292.08 L61.57 295.18 Z" fill="#dc962e"/>
<path d="M69.24 305.33 L71.04 302.23 L72.84 305.33 Z" fill="#dc962e"/>
<path d="M80.51 336.25 L82.31 333.15 L84.11 336.25 Z" fill="#dc962e"/>
<path d="M91.78 337.70 L93.58 334.60 L95.38 337.70 Z" fill="#dc962e"/>
<polyline points="48.50,318.04 59.77,315.62 71.04,313.21 82.31,334.95 93.58,336.40" fill="none" stroke="#5f9442" stroke-width="1.6" stroke-linejoin="round"/>
<circle cx="48.50" cy="318.04" r="1.70" fill="#5f9442"/>
<circle cx="59.77" cy="315.62" r="1.70" fill="#5f9442"/>
<circle cx="71.04" cy="313.21" r="1.70" fill="#5f9442"/>
<circle cx="82.31" cy="334.95" r="1.70" fill="#5f9442"/>
<circle cx="93.58" cy="336.40" r="1.70" fill="#5f9442"/>
<polyline points="48.50,330.36 54.13,283.25 59.77,272.86 71.04,302.58 82.31,334.47 93.58,336.40" fill="none" stroke="#35205a" stroke-width="1.6" stroke-linejoin="round"/>
<path d="M46.70 329.06 L48.50 332.16 L50.30 329.06 Z" fill="#35205a"/>
<path d="M52.34 281.95 L54.13 285.05 L55.93 281.95 Z" fill="#35205a"/>
<path d="M57.97 271.56 L59.77 274.66 L61.57 271.56 Z" fill="#35205a"/>
<path d="M69.24 301.28 L71.04 304.38 L72.84 301.28 Z" fill="#35205a"/>
<path d="M80.51 333.17 L82.31 336.27 L84.11 333.17 Z" fill="#35205a"/>
<path d="M91.78 335.10 L93.58 338.20 L95.38 335.10 Z" fill="#35205a"/>
<polyline points="48.50,306.44 59.77,313.93 71.04,298.71 82.31,283.25 93.58,336.40 104.85,336.40 116.12,336.40 127.39,336.40 138.66,336.40 149.93,336.40 161.20,336.40 172.47,336.40 183.74,336.40 195.01,336.40" fill="none" stroke="#c81a7a" stroke-width="1.6" stroke-linejoin="round"/>
<circle cx="48.50" cy="306.44" r="1.90" fill="#d0388a" stroke="#c81a7a" stroke-width="1.0"/>
<circle cx="59.77" cy="313.93" r="1.90" fill="#d0388a" stroke="#c81a7a" stroke-width="1.0"/>
<circle cx="71.04" cy="298.71" r="1.90" fill="#d0388a" stroke="#c81a7a" stroke-width="1.0"/>
<circle cx="82.31" cy="283.25" r="1.90" fill="#d0388a" stroke="#c81a7a" stroke-width="1.0"/>
<circle cx="93.58" cy="336.40" r="1.90" fill="#d0388a" stroke="#c81a7a" stroke-width="1.0"/>
<circle cx="104.85" cy="336.40" r="1.90" fill="#d0388a" stroke="#c81a7a" stroke-width="1.0"/>
<circle cx="116.12" cy="336.40" r="1.90" fill="#d0388a" stroke="#c81a7a" stroke-width="1.0"/>
<circle cx="127.39" cy="336.40" r="1.90" fill="#d0388a" stroke="#c81a7a" stroke-width="1.0"/>
<circle cx="138.66" cy="336.40" r="1.90" fill="#d0388a" stroke="#c81a7a" stroke-width="1.0"/>
<circle cx="149.93" cy="336.40" r="1.90" fill="#d0388a" stroke="#c81a7a" stroke-width="1.0"/>
<circle cx="161.20" cy="336.40" r="1.90" fill="#d0388a" stroke="#c81a7a" stroke-width="1.0"/>
<circle cx="172.47" cy="336.40" r="1.90" fill="#d0388a" stroke="#c81a7a" stroke-width="1.0"/>
<circle cx="183.74" cy="336.40" r="1.90" fill="#d0388a" stroke="#c81a7a" stroke-width="1.0"/>
<circle cx="195.01" cy="336.40" r="1.90" fill="#d0388a" stroke="#c81a7a" stroke-width="1.0"/>
<polyline points="48.50,327.70 54.13,321.42 59.77,336.40 71.04,336.40 82.31,336.40 93.58,336.40 104.85,336.40 116.12,336.40 127.39,336.40" fill="none" stroke="#a3102c" stroke-width="1.6" stroke-linejoin="round"/>
<rect x="47.10" y="326.30" width="2.80" height="2.80" fill="#a3102c"/>
<rect x="52.73" y="320.02" width="2.80" height="2.80" fill="#a3102c"/>
<rect x="58.37" y="335.00" width="2.80" height="2.80" fill="#a3102c"/>
<rect x="69.64" y="335.00" width="2.80" height="2.80" fill="#a3102c"/>
<rect x="80.91" y="335.00" width="2.80" height="2.80" fill="#a3102c"/>
<rect x="92.18" y="335.00" width="2.80" height="2.80" fill="#a3102c"/>
<rect x="103.45" y="335.00" width="2.80" height="2.80" fill="#a3102c"/>
<rect x="114.72" y="335.00" width="2.80" height="2.80" fill="#a3102c"/>
<rect x="125.99" y="335.00" width="2.80" height="2.80" fill="#a3102c"/>
<polyline points="48.50,259.57 54.13,266.82 59.77,263.92 71.04,271.65 93.58,333.02 104.85,333.26 116.12,333.74 127.39,335.68 138.66,336.40 149.93,336.40 161.20,336.40 172.47,336.40 183.74,336.40 195.01,336.40 206.28,336.40 217.55,336.40 228.82,336.40 240.09,336.40 251.36,336.40 262.63,336.40 273.90,336.40 285.17,336.40" fill="none" stroke="#3a6553" stroke-width="1.6" stroke-linejoin="round"/>
<circle cx="48.50" cy="259.57" r="1.53" fill="#3a6553"/>
<circle cx="54.13" cy="266.82" r="1.53" fill="#3a6553"/>
<circle cx="59.77" cy="263.92" r="1.53" fill="#3a6553"/>
<circle cx="71.04" cy="271.65" r="1.53" fill="#3a6553"/>
<rect x="92.32" y="331.76" width="2.52" height="2.52" fill="#3a6553"/>
<rect x="103.59" y="332.00" width="2.52" height="2.52" fill="#3a6553"/>
<rect x="114.86" y="332.48" width="2.52" height="2.52" fill="#3a6553"/>
<circle cx="127.39" cy="335.68" r="2.29" fill="#3c4a46"/>
<circle cx="138.66" cy="336.40" r="2.29" fill="#3c4a46"/>
<circle cx="149.93" cy="336.40" r="2.29" fill="#3c4a46"/>
<circle cx="161.20" cy="336.40" r="2.29" fill="#3c4a46"/>
<circle cx="172.47" cy="336.40" r="2.29" fill="#3c4a46"/>
<circle cx="183.74" cy="336.40" r="2.29" fill="#3c4a46"/>
<circle cx="195.01" cy="336.40" r="2.29" fill="#3c4a46"/>
<circle cx="206.28" cy="336.40" r="1.61" fill="#3a6553"/>
<circle cx="217.55" cy="336.40" r="1.61" fill="#3a6553"/>
<circle cx="228.82" cy="336.40" r="1.61" fill="#3a6553"/>
<circle cx="240.09" cy="336.40" r="1.61" fill="#3a6553"/>
<circle cx="251.36" cy="336.40" r="1.61" fill="#3a6553"/>
<circle cx="262.63" cy="336.40" r="1.61" fill="#3a6553"/>
<circle cx="273.90" cy="336.40" r="1.61" fill="#3a6553"/>
<circle cx="285.17" cy="336.40" r="1.61" fill="#3a6553"/>
<text transform="translate(171.30,361.90) scale(0.9259,1)" font-size="9.18" text-anchor="middle" font-weight="normal" stroke="#1a1a1a" stroke-width="0.2" >Days</text>
<line x1="244.10" y1="230.90" x2="256.30" y2="230.90" stroke="#3a6553" stroke-width="1.4" />
<circle cx="250.20" cy="230.90" r="2.12" fill="#3a6553"/>
<text transform="translate(259.90,233.65) scale(0.9259,1)" font-size="8.10" text-anchor="start" font-weight="normal" stroke="#1a1a1a" stroke-width="0.2" >104-016</text>
<line x1="244.10" y1="242.42" x2="256.30" y2="242.42" stroke="#a3102c" stroke-width="1.4" />
<rect x="248.45" y="240.67" width="3.50" height="3.50" fill="#a3102c"/>
<text transform="translate(259.90,245.17) scale(0.9259,1)" font-size="8.10" text-anchor="start" font-weight="normal" stroke="#1a1a1a" stroke-width="0.2" >109-012</text>
<line x1="244.10" y1="253.94" x2="256.30" y2="253.94" stroke="#dc962e" stroke-width="1.4" />
<path d="M247.95 255.56 L250.20 251.69 L252.45 255.56 Z" fill="#dc962e"/>
<text transform="translate(259.90,256.69) scale(0.9259,1)" font-size="8.10" text-anchor="start" font-weight="normal" stroke="#1a1a1a" stroke-width="0.2" >109-013</text>
<line x1="244.10" y1="265.46" x2="256.30" y2="265.46" stroke="#e6cc48" stroke-width="1.4" />
<path d="M247.95 267.09 L250.20 263.21 L252.45 267.09 Z" fill="#e6cc48"/>
<text transform="translate(259.90,268.21) scale(0.9259,1)" font-size="8.10" text-anchor="start" font-weight="normal" stroke="#1a1a1a" stroke-width="0.2" >110-006</text>
<line x1="244.10" y1="276.98" x2="256.30" y2="276.98" stroke="#5f9442" stroke-width="1.4" />
<circle cx="250.20" cy="276.98" r="2.12" fill="#5f9442"/>
<text transform="translate(259.90,279.73) scale(0.9259,1)" font-size="8.10" text-anchor="start" font-weight="normal" stroke="#1a1a1a" stroke-width="0.2" >110-013</text>
<line x1="244.10" y1="288.50" x2="256.30" y2="288.50" stroke="#80b0e0" stroke-width="1.4" />
<path d="M247.70 288.50 H252.70 M248.57 286.62 L251.82 290.38 M251.82 286.62 L248.57 290.38" stroke="#80b0e0" stroke-width="1.1" fill="none"/>
<text transform="translate(259.90,291.25) scale(0.9259,1)" font-size="8.10" text-anchor="start" font-weight="normal" stroke="#1a1a1a" stroke-width="0.2" >111-034</text>
<line x1="244.10" y1="300.02" x2="256.30" y2="300.02" stroke="#2b3b6e" stroke-width="1.4" />
<path d="M247.70 300.02 H252.70 M248.57 298.14 L251.82 301.89 M251.82 298.14 L248.57 301.89" stroke="#2b3b6e" stroke-width="1.1" fill="none"/>
<text transform="translate(259.90,302.77) scale(0.9259,1)" font-size="8.10" text-anchor="start" font-weight="normal" stroke="#1a1a1a" stroke-width="0.2" >201-022</text>
<line x1="244.10" y1="311.54" x2="256.30" y2="311.54" stroke="#35205a" stroke-width="1.4" />
<path d="M247.95 309.92 L250.20 313.79 L252.45 309.92 Z" fill="#35205a"/>
<text transform="translate(259.90,314.29) scale(0.9259,1)" font-size="8.10" text-anchor="start" font-weight="normal" stroke="#1a1a1a" stroke-width="0.2" >900-006</text>
<line x1="244.10" y1="323.06" x2="256.30" y2="323.06" stroke="#c81a7a" stroke-width="1.4" />
<circle cx="250.20" cy="323.06" r="1.90" fill="#d0388a" stroke="#c81a7a" stroke-width="1.0"/>
<text transform="translate(259.90,325.81) scale(0.9259,1)" font-size="8.10" text-anchor="start" font-weight="normal" stroke="#1a1a1a" stroke-width="0.2" >900-014</text>
<text transform="translate(430.00,224.00) scale(0.9615,1)" font-size="8.01" text-anchor="middle" font-weight="bold" stroke="#1a1a1a" stroke-width="0.15" >Blast % vs VAF: Pre-Rx and CR</text>
<text transform="translate(333.50,288.30) rotate(-90) scale(0.85,1)" font-size="10.0" text-anchor="middle" stroke="#1a1a1a" stroke-width="0.2">m<tspan font-style="italic">IDH2</tspan> VAF %</text>
<line x1="359.20" y1="336.50" x2="497.60" y2="289.50" stroke="#203c74" stroke-width="1.6" stroke-dasharray="2.6,1.8"/>
<line x1="359.20" y1="240.90" x2="359.20" y2="337.10" stroke="#000" stroke-width="1.3" />
<line x1="356.40" y1="336.50" x2="359.20" y2="336.50" stroke="#000" stroke-width="1.1" />
<text transform="translate(353.20,339.25) scale(0.9259,1)" font-size="8.32" text-anchor="end" font-weight="normal" stroke="#1a1a1a" stroke-width="0.2" >0</text>
<line x1="356.40" y1="317.98" x2="359.20" y2="317.98" stroke="#000" stroke-width="1.1" />
<text transform="translate(353.20,320.73) scale(0.9259,1)" font-size="8.32" text-anchor="end" font-weight="normal" stroke="#1a1a1a" stroke-width="0.2" >20</text>
<line x1="356.40" y1="299.46" x2="359.20" y2="299.46" stroke="#000" stroke-width="1.1" />
<text transform="translate(353.20,302.21) scale(0.9259,1)" font-size="8.32" text-anchor="end" font-weight="normal" stroke="#1a1a1a" stroke-width="0.2" >40</text>
<line x1="356.40" y1="280.94" x2="359.20" y2="280.94" stroke="#000" stroke-width="1.1" />
<text transform="translate(353.20,283.69) scale(0.9259,1)" font-size="8.32" text-anchor="end" font-weight="normal" stroke="#1a1a1a" stroke-width="0.2" >60</text>
<line x1="356.40" y1="262.42" x2="359.20" y2="262.42" stroke="#000" stroke-width="1.1" />
<text transform="translate(353.20,265.17) scale(0.9259,1)" font-size="8.32" text-anchor="end" font-weight="normal" stroke="#1a1a1a" stroke-width="0.2" >80</text>
<line x1="356.40" y1="243.90" x2="359.20" y2="243.90" stroke="#000" stroke-width="1.1" />
<text transform="translate(353.20,246.65) scale(0.9259,1)" font-size="8.32" text-anchor="end" font-weight="normal" stroke="#1a1a1a" stroke-width="0.2" >100</text>
<line x1="358.60" y1="336.50" x2="501.20" y2="336.50" stroke="#000" stroke-width="1.3" />
<line x1="359.20" y1="336.50" x2="359.20" y2="339.50" stroke="#000" stroke-width="1.1" />
<text transform="translate(359.20,350.00) scale(0.9259,1)" font-size="8.32" text-anchor="middle" font-weight="normal" stroke="#1a1a1a" stroke-width="0.2" >0</text>
<line x1="387.08" y1="336.50" x2="387.08" y2="339.50" stroke="#000" stroke-width="1.1" />
<text transform="translate(387.08,350.00) scale(0.9259,1)" font-size="8.32" text-anchor="middle" font-weight="normal" stroke="#1a1a1a" stroke-width="0.2" >20</text>
<line x1="414.96" y1="336.50" x2="414.96" y2="339.50" stroke="#000" stroke-width="1.1" />
<text transform="translate(414.96,350.00) scale(0.9259,1)" font-size="8.32" text-anchor="middle" font-weight="normal" stroke="#1a1a1a" stroke-width="0.2" >40</text>
<line x1="442.84" y1="336.50" x2="442.84" y2="339.50" stroke="#000" stroke-width="1.1" />
<text transform="translate(442.84,350.00) scale(0.9259,1)" font-size="8.32" text-anchor="middle" font-weight="normal" stroke="#1a1a1a" stroke-width="0.2" >60</text>
<line x1="470.72" y1="336.50" x2="470.72" y2="339.50" stroke="#000" stroke-width="1.1" />
<text transform="translate(470.72,350.00) scale(0.9259,1)" font-size="8.32" text-anchor="middle" font-weight="normal" stroke="#1a1a1a" stroke-width="0.2" >80</text>
<line x1="498.60" y1="336.50" x2="498.60" y2="339.50" stroke="#000" stroke-width="1.1" />
<text transform="translate(498.60,350.00) scale(0.9259,1)" font-size="8.32" text-anchor="middle" font-weight="normal" stroke="#1a1a1a" stroke-width="0.2" >100</text>
<text transform="translate(431.00,362.00) scale(0.9259,1)" font-size="9.72" text-anchor="middle" font-weight="normal" stroke="#1a1a1a" stroke-width="0.2" >% blast by flow</text>
<circle cx="374.5" cy="315.2" r="2.2" fill="#661a30" stroke="#111" stroke-width="1.3"/>
<circle cx="380.2" cy="309.5" r="2.2" fill="#661a30" stroke="#111" stroke-width="1.3"/>
<circle cx="392.7" cy="292.9" r="2.2" fill="#661a30" stroke="#111" stroke-width="1.3"/>
<circle cx="403.9" cy="301" r="2.2" fill="#661a30" stroke="#111" stroke-width="1.3"/>
<circle cx="425.3" cy="291" r="2.2" fill="#661a30" stroke="#111" stroke-width="1.3"/>
<circle cx="425.3" cy="305" r="2.2" fill="#661a30" stroke="#111" stroke-width="1.3"/>
<circle cx="439.8" cy="299.4" r="2.2" fill="#661a30" stroke="#111" stroke-width="1.3"/>
<circle cx="384.2" cy="327.3" r="2.2" fill="#661a30" stroke="#111" stroke-width="1.3"/>
<circle cx="485.7" cy="301" r="2.2" fill="#661a30" stroke="#111" stroke-width="1.3"/>
<circle cx="359.5" cy="293.8" r="1.75" fill="#b4c8a2" stroke="#26341c" stroke-width="1.0"/>
<circle cx="361.6" cy="301" r="1.75" fill="#b4c8a2" stroke="#26341c" stroke-width="1.0"/>
<circle cx="362.6" cy="302.4" r="1.75" fill="#b4c8a2" stroke="#26341c" stroke-width="1.0"/>
<circle cx="359.5" cy="309.8" r="1.75" fill="#b4c8a2" stroke="#26341c" stroke-width="1.0"/>
<circle cx="359.5" cy="325.3" r="1.75" fill="#b4c8a2" stroke="#26341c" stroke-width="1.0"/>
<circle cx="359.5" cy="335.8" r="1.75" fill="#b4c8a2" stroke="#26341c" stroke-width="1.0"/>
<circle cx="359.5" cy="300.3" r="1.75" fill="#b4c8a2" stroke="#26341c" stroke-width="1.0"/>
<circle cx="403.6" cy="235.3" r="2.5" fill="#661a30" stroke="#111" stroke-width="1.4"/>
<circle cx="403.6" cy="246.9" r="2.5" fill="#98b888" stroke="#1c2618" stroke-width="1.4"/>
<line x1="390.20" y1="258.20" x2="407.20" y2="258.20" stroke="#203c74" stroke-width="1.5" stroke-dasharray="2.6,1.8"/>
<text transform="translate(409.50,237.90) scale(0.9259,1)" font-size="8.21" text-anchor="start" font-weight="normal" stroke="#1a1a1a" stroke-width="0.2" >Pre-Rx</text>
<text transform="translate(409.50,249.50) scale(0.9259,1)" font-size="8.29" text-anchor="start" font-weight="normal" stroke="#1a1a1a" stroke-width="0.2" >CR/ CRi/ CRp/ MLFS</text>
<text transform="translate(410.00,261.20) scale(0.9259,1)" font-size="8.27" text-anchor="start" font-weight="normal" stroke="#1a1a1a" stroke-width="0.2" >Blast%: m<tspan font-style="italic">IDH2</tspan> VAF = 2:1</text>
</svg>
</body></html>
